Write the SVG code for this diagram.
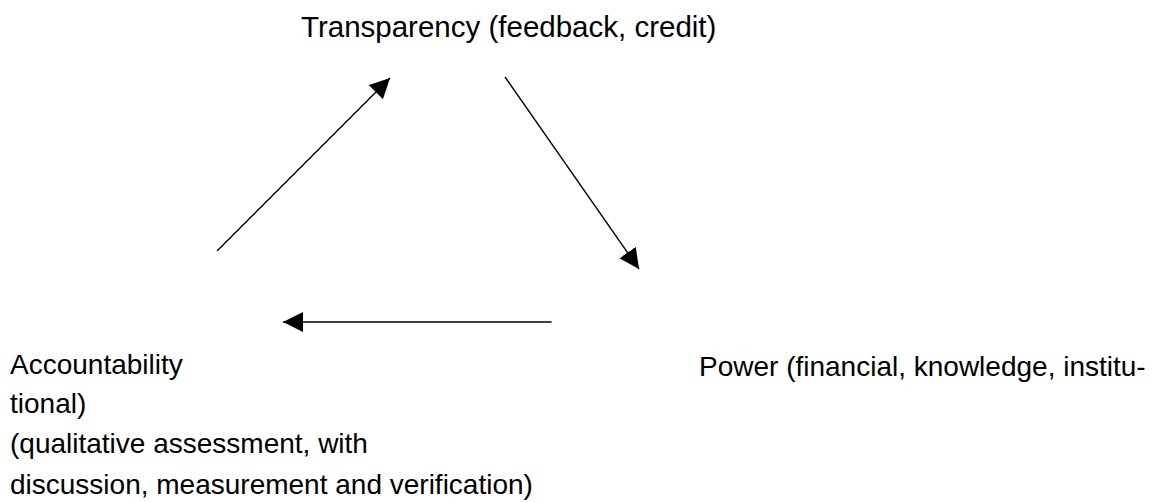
<svg xmlns="http://www.w3.org/2000/svg" width="1155" height="502" viewBox="0 0 1155 502">
<style>
text{font-family:"Liberation Sans",Arial,sans-serif;font-size:28px;fill:#000}
.t{font-size:29.5px}
.c{stroke:#000;stroke-width:1.4;fill:none}
</style>
<defs>
<marker id="ah" markerUnits="userSpaceOnUse" markerWidth="21" markerHeight="20" refX="20" refY="10" orient="auto" viewBox="0 0 21 20">
<path d="M0,0 L20,10 L0,20 z" fill="#000"/>
</marker>
</defs>
<rect width="1155" height="502" fill="#fff"/>
<g id="transparency"><text class="t" x="301" y="36.5">Transparency (feedback, credit)</text></g>
<g id="accountability">
<text x="10" y="374">Accountability</text>
<text x="10" y="412.5">tional)</text>
<text x="10" y="453">(qualitative assessment, with</text>
<text x="10" y="494">discussion, measurement and verification)</text>
</g>
<g id="power"><text x="699" y="376">Power (financial, knowledge, institu-</text></g>
<g id="connectors">
<line class="c" x1="217" y1="251" x2="390" y2="78" marker-end="url(#ah)"/>
<line class="c" x1="505" y1="77" x2="639" y2="269" marker-end="url(#ah)"/>
<line class="c" x1="551.5" y1="322" x2="283" y2="322" marker-end="url(#ah)"/>
</g>
</svg>
